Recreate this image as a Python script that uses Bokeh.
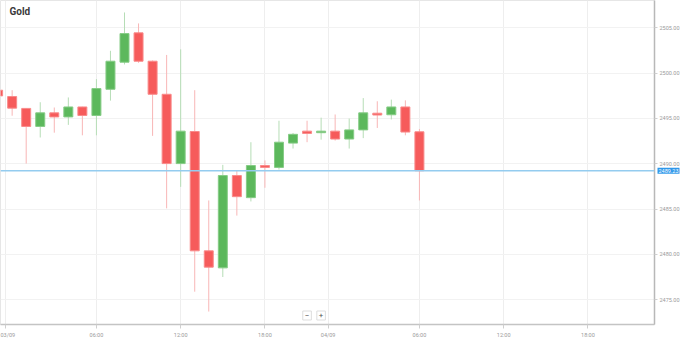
from bokeh.plotting import figure
from bokeh.models import Range1d, FixedTicker, Span, Label, PrintfTickFormatter, ColumnDataSource
from bokeh.embed import file_html
from bokeh.resources import INLINE

# ---- data (hourly Gold candles) ----
times = ["02/09 23:00"] + ["03/09 %02d:00" % h for h in range(0, 23)] + ["04/09 %02d:00" % h for h in range(0, 7)]
opens = [2498.12, 2497.42, 2496.11, 2494.12, 2495.62, 2495.17, 2496.27, 2495.33, 2498.22, 2501.21,
         2504.45, 2501.32, 2497.67, 2490.02, 2493.56, 2480.39, 2478.51, 2488.70, 2486.26, 2489.81,
         2489.60, 2492.28, 2493.60, 2493.43, 2493.60, 2492.73, 2493.74, 2495.58, 2495.41, 2496.27, 2493.53]
highs = [2498.33, 2498.12, 2496.14, 2496.79, 2496.21, 2497.32, 2496.30, 2499.34, 2502.47, 2506.70,
         2505.49, 2501.40, 2502.01, 2502.63, 2498.12, 2485.95, 2489.88, 2489.25, 2492.38, 2490.37,
         2494.75, 2493.40, 2494.75, 2495.09, 2495.44, 2494.99, 2497.25, 2496.90, 2497.08, 2497.00, 2493.84]
lows = [2497.28, 2495.30, 2490.02, 2492.90, 2493.43, 2494.29, 2493.14, 2493.14, 2496.97, 2500.96,
        2501.14, 2493.08, 2485.08, 2487.45, 2475.88, 2473.69, 2477.50, 2484.28, 2485.84, 2487.35,
        2489.36, 2491.68, 2492.38, 2492.66, 2492.56, 2491.68, 2492.83, 2493.95, 2494.89, 2493.14, 2485.95]
closes = [2497.49, 2496.14, 2494.12, 2495.62, 2495.17, 2496.27, 2495.33, 2498.30, 2501.32, 2504.37,
          2501.32, 2497.67, 2490.02, 2493.60, 2480.39, 2478.59, 2488.70, 2486.37, 2489.81, 2489.60,
          2492.38, 2493.25, 2493.35, 2493.60, 2492.73, 2493.74, 2495.62, 2495.38, 2496.27, 2493.50, 2489.23]

price_ticks = [2475, 2480, 2485, 2490, 2495, 2500, 2505]
tick_slots = [0.5, 7, 13, 19, 23.5, 30, 36, 42]
tick_labels = ["03/09", "06:00", "12:00", "18:00", "04/09", "06:00", "12:00", "18:00"]

RED, RED_W, RED_L = "#f65b5b", "#f8b6b6", "#f98a8a"
GREEN, GREEN_W, GREEN_L = "#5cb85c", "#b6ddb6", "#86cc86"

slots = list(range(len(times)))
up = [c >= o for o, c in zip(opens, closes)]
src = ColumnDataSource(dict(
    x=slots, open=opens, high=highs, low=lows, close=closes,
    top=[max(o, c) for o, c in zip(opens, closes)],
    bottom=[min(o, c) for o, c in zip(opens, closes)],
    fill=[GREEN if u else RED for u in up],
    line=[GREEN_L if u else RED_L for u in up],
    wick=[GREEN_W if u else RED_W for u in up],
))

p = figure(width=682, height=346, output_backend="svg", toolbar_location=None,
           x_range=Range1d(0.17, 46.74), y_range=Range1d(2472.26, 2508.02),
           y_axis_location="right", min_border_left=0, min_border_top=0,
           min_border_right=25, min_border_bottom=19)
p.background_fill_color = "white"
p.border_fill_color = "white"
p.outline_line_color = "#e6e6e6"

p.segment(x0="x", y0="low", x1="x", y1="high", source=src, line_color="wick", line_width=1)
p.vbar(x="x", width=0.64, top="top", bottom="bottom", source=src,
       fill_color="fill", line_color="line", line_width=1)

last = closes[-1]
p.add_layout(Span(location=last, dimension="width", line_color="#94ccef", line_width=1.5))

# y axis
ya = p.yaxis[0]
ya.ticker = FixedTicker(ticks=price_ticks)
ya.formatter = PrintfTickFormatter(format="%.2f")
ya.major_label_text_font = "Roboto"
ya.major_label_text_font_size = "5.5px"
ya.major_label_text_color = "#9a9a9a"
ya.axis_line_color = "#b8b8b8"
ya.axis_line_width = 1.5
ya.major_tick_line_color = "#cfcfcf"
ya.major_tick_in = 0
ya.major_tick_out = 3
ya.minor_tick_line_color = None
ya.major_label_standoff = 2

# x axis
xa = p.xaxis[0]
xa.ticker = FixedTicker(ticks=tick_slots)
xa.major_label_overrides = {k: v for k, v in zip(tick_slots, tick_labels)}
xa.major_label_text_font = "Roboto"
xa.major_label_text_font_size = "5.5px"
xa.major_label_text_color = "#9a9a9a"
xa.axis_line_color = "#c4c4c4"
xa.axis_line_width = 1.5
xa.major_tick_line_color = "#cfcfcf"
xa.major_tick_in = 0
xa.major_tick_out = 4
xa.minor_tick_line_color = None
xa.major_label_standoff = 3

p.xgrid.grid_line_color = "#eeeeee"
p.ygrid.grid_line_color = "#f2f2f2"

# current price tag (side panel so it is not clipped to the frame)
p.add_layout(Label(x=46.74, y=last, x_offset=3, text="%.2f" % last, text_color="white",
                   text_font="Roboto", text_font_size="5.5px", text_baseline="middle",
                   background_fill_color="#2e97ea", padding=1), "below")

# title
p.add_layout(Label(x=0.17, y=2508.02, x_offset=9, y_offset=-11, text="Gold",
                   text_font="Roboto", text_font_style="bold", text_font_size="10px",
                   text_color="#3a3a3a", text_baseline="middle"))
# zoom buttons
for xs, t in [(22.0, "\u2212"), (23.0, "+")]:
    p.add_layout(Label(x=xs, y=2472.26, y_offset=9, text=t, text_font="Roboto",
                       text_font_size="8px", text_color="#555", text_align="center",
                       text_baseline="middle", background_fill_color="white",
                       border_line_color="#dddddd", padding=2))

open("out.html", "w").write(file_html(p, INLINE))
